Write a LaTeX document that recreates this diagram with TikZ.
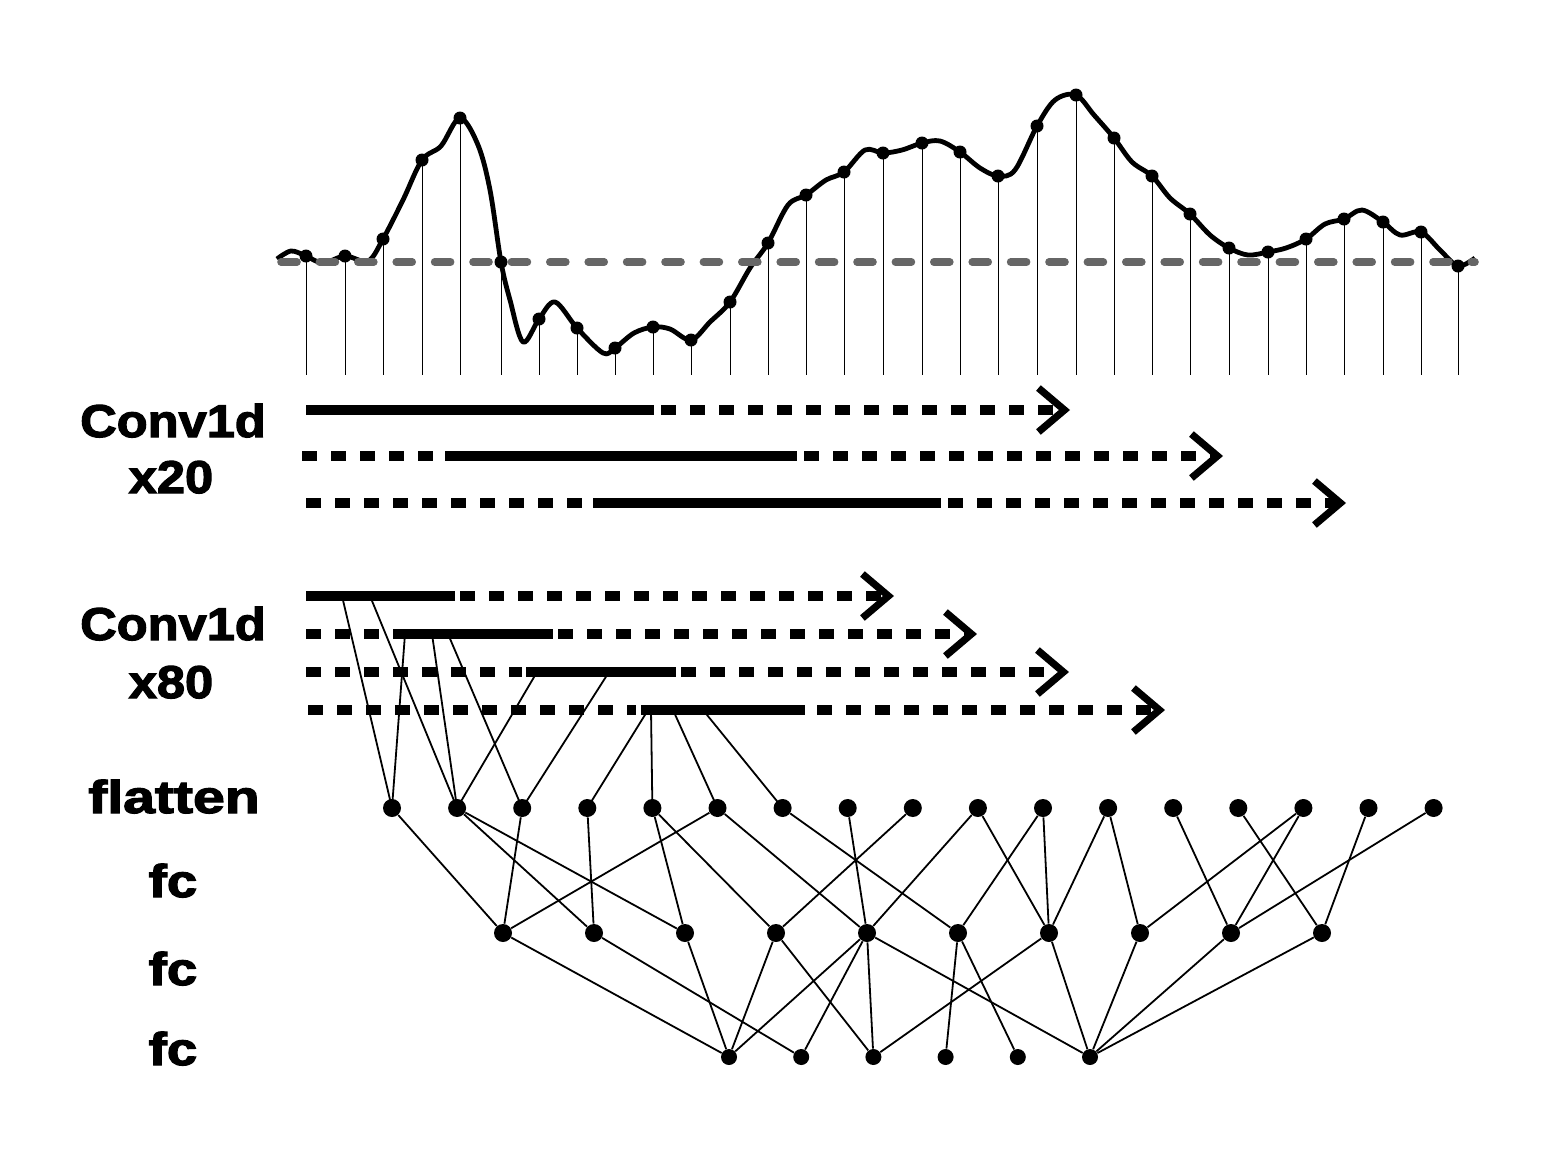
\documentclass[tikz,border=0pt]{standalone}
\usepackage{fontspec}
\setmainfont{Liberation Sans}[FakeStretch=1.1,BoldFeatures={FakeBold=2.6}]
\usetikzlibrary{arrows.meta}

\tikzset{
  neuron/.style={circle,fill,inner sep=0pt,minimum size=9pt},
  sample/.style={circle,fill,inner sep=0pt,minimum size=6.5pt},
  lbl/.style={anchor=base,inner sep=0pt,font=\fontsize{23}{27}\selectfont\bfseries},
  solidbar/.style={line width=5pt},
  dashbar/.style={line width=5pt,dash pattern=on 7.5pt off 7pt},
  arrbar/.style={dashbar,-{Straight Barb[length=13pt,width=22pt,line width=3.6pt]}},
  link/.style={line width=0.9pt},
}

\begin{document}
\begin{tikzpicture}[x=0.5pt,y=-0.5pt]
  \useasboundingbox (0,0) rectangle (1548,1152);

  % signal
  \draw[line width=2.4pt,line join=round] plot[smooth,tension=0.55] coordinates {
    (277,259) (291,251) (306,256) (323,263) (345,256) (368,261) (383,239)
    (403,200) (422,160) (441,146) (460,118) (478,145) (490,190) (501,262)
    (510,300) (523,342) (539,319) (555,302) (577,328) (603,353) (615,348)
    (634,333) (653,327) (670,329) (691,340) (710,322) (730,302) (750,268)
    (768,243) (788,205) (806,195) (826,180) (844,172) (865,150) (883,153)
    (902,150) (922,143) (940,141) (960,152) (980,168) (998,176) (1015,170)
    (1037,126) (1055,100) (1076,95) (1094,115) (1114,138) (1132,162)
    (1152,176) (1170,198) (1190,214) (1210,235) (1229,248) (1248,255)
    (1268,252) (1286,248) (1306,239) (1325,224) (1344,219) (1362,210)
    (1383,222) (1400,235) (1421,232) (1440,250) (1458,266) (1475,258)};
  \draw[line width=3.8pt,color=black!60,line cap=round,dash pattern=on 8pt off 11.2pt]
    (281,262) -- (1475,262);
  \foreach \x/\y in {306/256,345/256,383/239,422/160,460/118,501/262,539/319,
      577/328,615/348,653/327,691/340,730/302,768/243,806/195,844/172,883/153,
      922/143,960/152,998/176,1037/126,1076/95,1114/138,1152/176,1190/214,
      1229/248,1268/252,1306/239,1344/219,1383/222,1421/232,1458/266}
  {
    \draw[line width=0.5pt] (\x,\y) -- (\x,375);
    \node[sample] at (\x,\y) {};
  }

  % labels
  \node[lbl] (conva) at (173,437) {Conv1d};
  \node[lbl] (xa) at (171,493) {x20};
  \node[lbl] (convb) at (173,640) {Conv1d};
  \node[lbl] (xb) at (171,698) {x80};
  \node[lbl] (flat) at (174,813) {\scalebox{1.13}[1]{flatten}};
  \node[lbl] (fca) at (173,897) {\scalebox{1.08}[1]{fc}};
  \node[lbl] (fcb) at (173,985) {\scalebox{1.08}[1]{fc}};
  \node[lbl] (fcc) at (173,1065) {\scalebox{1.08}[1]{fc}};

  % conv1d x20
  \draw[solidbar] (306,410) -- (654,410);
  \draw[arrbar] (661,410) -- (1070,410);
  \draw[dashbar] (302,456) -- (440,456);
  \draw[solidbar] (445,456) -- (797,456);
  \draw[arrbar] (804,456) -- (1223,456);
  \draw[dashbar] (306,503) -- (585,503);
  \draw[solidbar] (593,503) -- (941,503);
  \draw[arrbar] (948,503) -- (1346,503);

  % conv1d x80
  \draw[solidbar] (306,596) -- (455,596);
  \draw[arrbar] (460,596) -- (894,596);
  \draw[dashbar] (306,634) -- (385,634);
  \draw[solidbar] (393,634) -- (553,634);
  \draw[arrbar] (558,634) -- (977,634);
  \draw[dashbar] (306,672) -- (522,672);
  \draw[solidbar] (526,672) -- (676,672);
  \draw[arrbar] (681,672) -- (1069,672);
  \draw[dashbar] (308,710) -- (636,710);
  \draw[solidbar] (641,710) -- (805,710);
  \draw[arrbar] (817,710) -- (1165,710);

  \coordinate (p1) at (342,596);
  \coordinate (p2) at (370,596);
  \coordinate (q1) at (405,634);
  \coordinate (q2) at (432,634);
  \coordinate (q3) at (448,634);
  \coordinate (r1) at (537,672);
  \coordinate (r2) at (609,672);
  \coordinate (s1) at (648,710);
  \coordinate (s2) at (651,710);
  \coordinate (s3) at (673,710);
  \coordinate (s4) at (703,710);

  % layers
  \foreach \i in {1,...,17}
    \node[neuron] (f\i) at ({392+65.1*(\i-1)},808) {};
  \foreach \i in {1,...,10}
    \node[neuron] (a\i) at ({503+91*(\i-1)},933) {};
  \foreach \i in {1,...,6}
    \node[neuron,minimum size=8pt] (b\i) at ({729+72.2*(\i-1)},1057) {};

  \foreach \u/\v in {p1/f1,p2/f2,q1/f1,q2/f2,q3/f3,r1/f2,r2/f3,s1/f4,s2/f5,s3/f6,s4/f7}
    \draw[link] (\u) -- (\v.center);
  \foreach \u/\v in {f1/a1,f2/a2,f2/a3,f3/a1,f4/a2,f5/a3,f5/a4,f6/a1,f6/a5,f7/a6,
      f8/a5,f9/a4,f10/a5,f10/a7,f11/a6,f11/a7,f12/a7,f12/a8,f13/a9,f14/a10,
      f15/a8,f15/a9,f16/a10,f17/a9}
    \draw[link] (\u) -- (\v);
  \foreach \u/\v in {a1/b1,a2/b2,a3/b1,a4/b1,a4/b3,a5/b1,a5/b2,a5/b3,a5/b6,
      a6/b4,a6/b5,a7/b6,a7/b3,a8/b6,a9/b6,a10/b6}
    \draw[link] (\u) -- (\v);
\end{tikzpicture}
\end{document}
